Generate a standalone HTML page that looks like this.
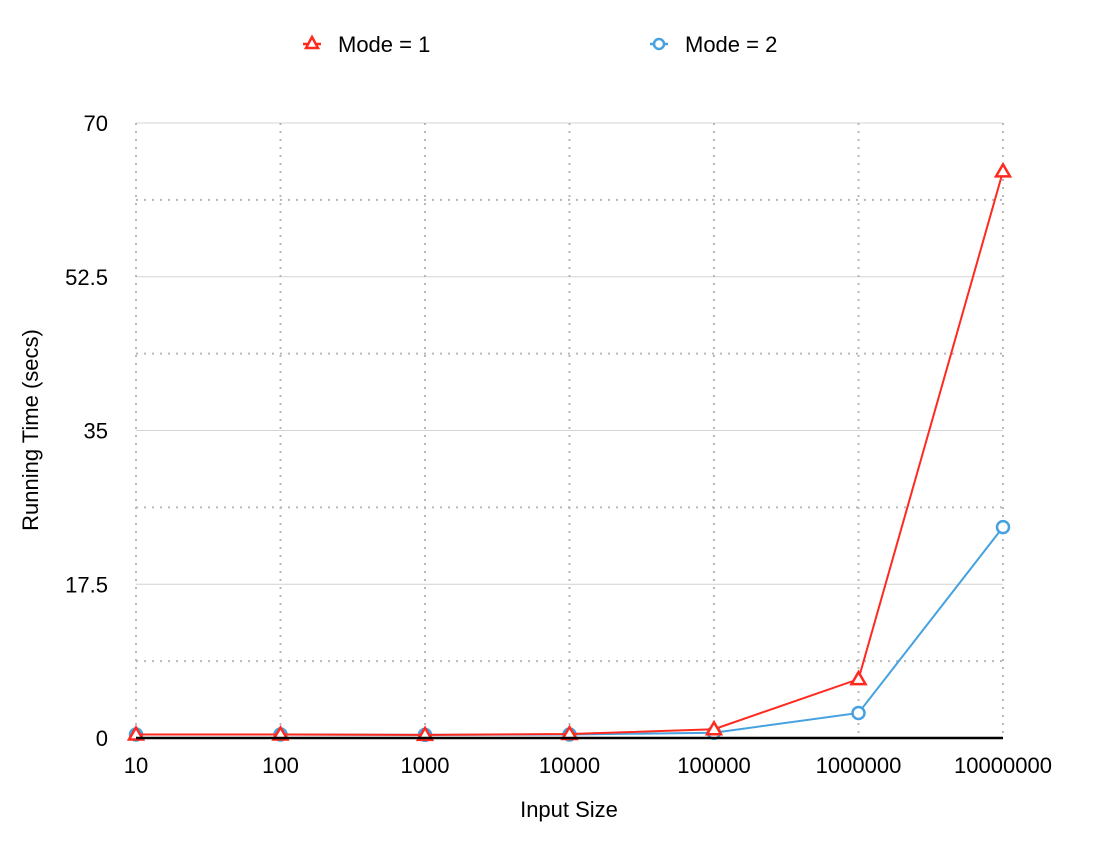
<!DOCTYPE html>
<html><head><meta charset="utf-8"><style>
body{margin:0;background:#fff;font-family:"Liberation Sans",sans-serif}
svg text{font-family:"Liberation Sans",sans-serif;fill:#000}
</style></head><body>
<svg id="chart" width="1098" height="846" viewBox="0 0 1098 846">
<g id="grid"></g>
<g id="series"></g>
<g id="axes"></g>
<g>
 <g>
  <line x1="303" y1="44" x2="321" y2="44" stroke="#ff2a1f" stroke-width="2.5"/>
  <path d="M312,37 L318,48 L306,48 Z" fill="#fff" stroke="#ff2a1f" stroke-width="2.5"/>
  <text x="338" y="52" font-size="22">Mode = 1</text>
 </g>
 <g>
  <line x1="650" y1="44" x2="668" y2="44" stroke="#45a1e0" stroke-width="2.5"/>
  <circle cx="659" cy="44" r="5" fill="#fff" stroke="#45a1e0" stroke-width="2.5"/>
  <text x="685" y="52" font-size="22">Mode = 2</text>
 </g>
</g>
<text x="569" y="817" font-size="22" text-anchor="middle">Input Size</text>
<text transform="translate(38,430) rotate(-90)" font-size="22" text-anchor="middle">Running Time (secs)</text>
</svg>
<script>
const categories=["10","100","1000","10000","100000","1000000","10000000"];
const mode1=[0.4,0.4,0.35,0.45,1.0,6.7,64.5];
const mode2=[0.4,0.4,0.35,0.4,0.6,2.85,24.0];
const yTicks=[0,17.5,35,52.5,70];
const yTickLabels=["0","17.5","35","52.5","70"];
const yMax=70;
const L=136,R=1003,T=123,B=738;
const ns="http://www.w3.org/2000/svg";
function xs(i){return L+i*(R-L)/(categories.length-1);}
function ys(v){return B-v/yMax*(B-T);}
function mk(tag,attrs,parent){const e=document.createElementNS(ns,tag);for(const k in attrs)e.setAttribute(k,attrs[k]);parent.appendChild(e);return e;}
const grid=document.getElementById('grid'),axes=document.getElementById('axes'),series=document.getElementById('series');
for(let k=0;k<yTicks.length;k++){
  const y=ys(yTicks[k]);
  if(yTicks[k]>0){const g=mk('line',{x1:L,x2:R,y1:y,y2:y,stroke:'#d4d4d4','stroke-width':1},grid);
  
  }
  const t=mk('text',{x:L-28,y:y+8,'font-size':22,'text-anchor':'end'},axes);
  t.textContent=yTickLabels[k];
  
  
  if(k<yTicks.length-1){const m=(yTicks[k]+yTicks[k+1])/2;const ym=ys(m);
  const d=mk('line',{x1:L,x2:R,y1:ym,y2:ym,stroke:'#b8b8b8','stroke-width':2,'stroke-dasharray':'2 6'},grid);
  
  }
}
categories.forEach((c,i)=>{
  const x=xs(i);
  const v=mk('line',{x1:x,x2:x,y1:T,y2:B,stroke:'#b8b8b8','stroke-width':2,'stroke-dasharray':'2 6'},grid);
  
  
  const t=mk('text',{x:x,y:773,'font-size':22,'text-anchor':'middle'},axes);
  t.textContent=c;
  
  
});
const ax=mk('line',{x1:L,x2:R,y1:B,y2:B,stroke:'#000','stroke-width':2.5},axes);


function draw(vals,color,shape,name){
  const pts=vals.map((v,i)=>xs(i)+','+ys(v)).join(' ');
  const pl=mk('polyline',{points:pts,fill:'none',stroke:color,'stroke-width':2},series);
  
  
  vals.forEach((v,i)=>{
    const x=xs(i),y=ys(v);let m;
    if(shape==='tri')m=mk('path',{d:`M${x},${y-7} L${x+7},${y+5} L${x-7},${y+5} Z`,fill:'#fff',stroke:color,'stroke-width':2.5},series);
    else m=mk('circle',{cx:x,cy:y,r:6,fill:'#fff',stroke:color,'stroke-width':2.5},series);
    
    
  });
}
draw(mode2,'#45a1e0','circle','mode-2');
draw(mode1,'#ff2a1f','tri','mode-1');
</script>
</body></html>
